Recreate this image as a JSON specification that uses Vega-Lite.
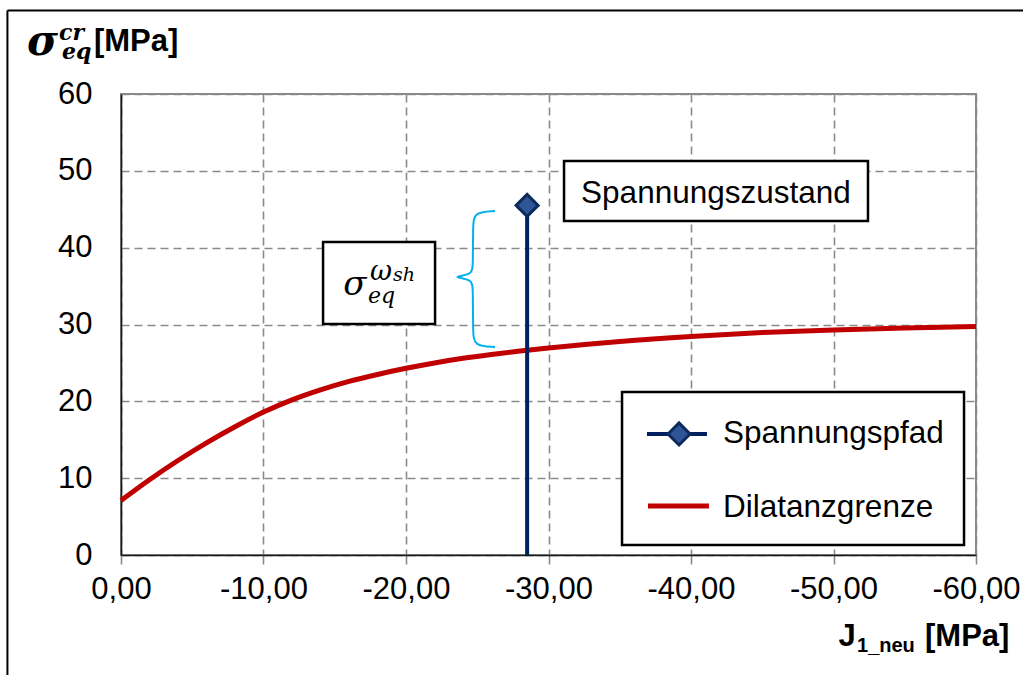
{
  "$schema": "https://vega.github.io/schema/vega-lite/v6.json",
  "width": 855,
  "height": 461,
  "autosize": {"type": "none"},
  "padding": {"left": 121, "top": 94, "right": 47, "bottom": 120},
  "background": "white",
  "data": {"values": [{}]},
  "config": {
    "font": "Liberation Sans",
    "view": {"stroke": "#8a8a8a", "strokeWidth": 2},
    "axis": {
      "labelFont": "Liberation Sans",
      "labelFontSize": 31,
      "labelColor": "black",
      "labelFlush": false,
      "labelOverlap": false,
      "grid": true,
      "gridColor": "#8a8a8a",
      "gridDash": [8, 5],
      "gridWidth": 1.6,
      "domainColor": "#1a1a1a",
      "domainWidth": 1.6,
      "title": null
    }
  },
  "datasets": {
    "dilatanzgrenze": [
      {"J": 0, "sigma": 7.1},
      {"J": -2, "sigma": 9.8},
      {"J": -4, "sigma": 12.3},
      {"J": -6, "sigma": 14.6},
      {"J": -8, "sigma": 16.7},
      {"J": -10, "sigma": 18.6},
      {"J": -12, "sigma": 20.2},
      {"J": -14, "sigma": 21.5},
      {"J": -16, "sigma": 22.6},
      {"J": -18, "sigma": 23.5},
      {"J": -20, "sigma": 24.3},
      {"J": -22, "sigma": 25.0},
      {"J": -24, "sigma": 25.6},
      {"J": -26, "sigma": 26.1},
      {"J": -28, "sigma": 26.55},
      {"J": -30, "sigma": 26.95},
      {"J": -35, "sigma": 27.8},
      {"J": -40, "sigma": 28.45},
      {"J": -45, "sigma": 28.95},
      {"J": -50, "sigma": 29.3},
      {"J": -55, "sigma": 29.55},
      {"J": -60, "sigma": 29.75}
    ],
    "spannungspfad": [
      {"J": -28.5, "sigma": 0},
      {"J": -28.5, "sigma": 45.5}
    ],
    "klammer": [
      {"i": 1, "J": -26.25, "sigma": 44.77},
      {"i": 2, "J": -24.77, "sigma": 44.64},
      {"i": 3, "J": -24.7, "sigma": 42.82},
      {"i": 4, "J": -24.7, "sigma": 37.61},
      {"i": 5, "J": -24.63, "sigma": 36.44},
      {"i": 6, "J": -23.09, "sigma": 36.18},
      {"i": 7, "J": -24.63, "sigma": 35.92},
      {"i": 8, "J": -24.7, "sigma": 34.75},
      {"i": 9, "J": -24.7, "sigma": 29.02},
      {"i": 10, "J": -24.77, "sigma": 27.2},
      {"i": 11, "J": -26.25, "sigma": 27.07}
    ]
  },
  "layer": [
    {
      "data": {"name": "dilatanzgrenze"},
      "mark": {"type": "line", "color": "#c00000", "strokeWidth": 5, "interpolate": "monotone"},
      "encoding": {
        "x": {
          "field": "J",
          "type": "quantitative",
          "scale": {"domain": [0, -60], "nice": false, "zero": false},
          "axis": {
            "values": [0, -10, -20, -30, -40, -50, -60],
            "labelExpr": "replace(replace(format(datum.value, '.2f'), '.', ','), '\u2212', '-')",
            "tickSize": 9,
            "tickColor": "#8a8a8a",
            "tickWidth": 1.6,
            "labelPadding": 10
          }
        },
        "y": {
          "field": "sigma",
          "type": "quantitative",
          "scale": {"domain": [0, 60], "nice": false, "zero": true},
          "axis": {
            "values": [0, 10, 20, 30, 40, 50, 60],
            "ticks": false,
            "tickSize": 0,
            "labelPadding": 29
          }
        }
      }
    },
    {
      "data": {"name": "klammer"},
      "mark": {"type": "line", "color": "#00b0f0", "strokeWidth": 2, "interpolate": "basis"},
      "encoding": {
        "x": {"field": "J", "type": "quantitative"},
        "y": {"field": "sigma", "type": "quantitative"},
        "order": {"field": "i"}
      }
    },
    {
      "data": {"name": "spannungspfad"},
      "mark": {"type": "line", "color": "#002060", "strokeWidth": 4},
      "encoding": {
        "x": {"field": "J", "type": "quantitative"},
        "y": {"field": "sigma", "type": "quantitative"}
      }
    },
    {
      "data": {"name": "spannungspfad"},
      "transform": [{"filter": "datum.sigma > 0"}],
      "mark": {"type": "point", "shape": "diamond", "size": 484, "filled": true, "fill": "#2f5597", "stroke": "#0d2a5c", "strokeWidth": 3, "opacity": 1},
      "encoding": {
        "x": {"field": "J", "type": "quantitative"},
        "y": {"field": "sigma", "type": "quantitative"}
      }
    },
    {
      "mark": {"type": "rule", "color": "black", "strokeWidth": 2, "clip": false},
      "encoding": {
        "x": {"datum": 7.97, "type": "quantitative"},
        "x2": {"datum": -64},
        "y": {"datum": 70.87, "type": "quantitative"}
      }
    },
    {
      "mark": {"type": "rule", "color": "black", "strokeWidth": 2, "clip": false},
      "encoding": {
        "x": {"datum": 7.97, "type": "quantitative"},
        "y": {"datum": 70.87, "type": "quantitative"},
        "y2": {"datum": -16}
      }
    },
    {
      "mark": {"type": "rect", "fill": "white", "stroke": "black", "strokeWidth": 2.5},
      "encoding": {
        "x": {"datum": -31.09, "type": "quantitative"},
        "x2": {"datum": -52.42},
        "y": {"datum": 51.28, "type": "quantitative"},
        "y2": {"datum": 43.47}
      }
    },
    {
      "mark": {"type": "text", "text": "Spannungszustand", "font": "Liberation Sans", "fontSize": 31.5, "align": "center", "baseline": "alphabetic", "color": "black"},
      "encoding": {
        "x": {"datum": -41.75, "type": "quantitative"},
        "y": {"datum": 45.81, "type": "quantitative"}
      }
    },
    {
      "mark": {"type": "rect", "fill": "white", "stroke": "black", "strokeWidth": 2.5},
      "encoding": {
        "x": {"datum": -14.18, "type": "quantitative"},
        "x2": {"datum": -22.04},
        "y": {"datum": 40.74, "type": "quantitative"},
        "y2": {"datum": 30.07}
      }
    },
    {
      "mark": {"type": "text", "text": "σ", "font": "DejaVu Serif", "fontStyle": "italic", "fontSize": 34, "align": "left", "baseline": "alphabetic", "color": "black"},
      "encoding": {
        "x": {"datum": -15.6, "type": "quantitative"},
        "y": {"datum": 33.84, "type": "quantitative"}
      }
    },
    {
      "mark": {"type": "text", "text": "eq", "font": "DejaVu Serif", "fontStyle": "italic", "fontSize": 22, "align": "left", "baseline": "alphabetic", "color": "black"},
      "encoding": {
        "x": {"datum": -17.33, "type": "quantitative"},
        "y": {"datum": 32.8, "type": "quantitative"}
      }
    },
    {
      "mark": {"type": "text", "text": "ω", "font": "DejaVu Serif", "fontStyle": "italic", "fontSize": 27, "align": "left", "baseline": "alphabetic", "color": "black"},
      "encoding": {
        "x": {"datum": -17.47, "type": "quantitative"},
        "y": {"datum": 35.79, "type": "quantitative"}
      }
    },
    {
      "mark": {"type": "text", "text": "sh", "font": "DejaVu Serif", "fontStyle": "italic", "fontSize": 19, "align": "left", "baseline": "alphabetic", "color": "black"},
      "encoding": {
        "x": {"datum": -19.09, "type": "quantitative"},
        "y": {"datum": 35.6, "type": "quantitative"}
      }
    },
    {
      "mark": {"type": "rect", "fill": "white", "stroke": "black", "strokeWidth": 2.5},
      "encoding": {
        "x": {"datum": -35.16, "type": "quantitative"},
        "x2": {"datum": -59.16},
        "y": {"datum": 21.22, "type": "quantitative"},
        "y2": {"datum": 1.3}
      }
    },
    {
      "mark": {"type": "rule", "color": "#002060", "strokeWidth": 4},
      "encoding": {
        "x": {"datum": -36.91, "type": "quantitative"},
        "x2": {"datum": -41.12},
        "y": {"datum": 15.75, "type": "quantitative"}
      }
    },
    {
      "mark": {"type": "point", "shape": "diamond", "size": 484, "filled": true, "fill": "#2f5597", "stroke": "#0d2a5c", "strokeWidth": 3, "opacity": 1},
      "encoding": {
        "x": {"datum": -39.16, "type": "quantitative"},
        "y": {"datum": 15.75, "type": "quantitative"}
      }
    },
    {
      "mark": {"type": "rule", "color": "#c00000", "strokeWidth": 5},
      "encoding": {
        "x": {"datum": -36.98, "type": "quantitative"},
        "x2": {"datum": -41.26},
        "y": {"datum": 6.38, "type": "quantitative"}
      }
    },
    {
      "mark": {"type": "text", "text": "Spannungspfad", "font": "Liberation Sans", "fontSize": 31.5, "align": "left", "baseline": "alphabetic", "color": "black"},
      "encoding": {
        "x": {"datum": -42.25, "type": "quantitative"},
        "y": {"datum": 14.58, "type": "quantitative"}
      }
    },
    {
      "mark": {"type": "text", "text": "Dilatanzgrenze", "font": "Liberation Sans", "fontSize": 31.5, "align": "left", "baseline": "alphabetic", "color": "black"},
      "encoding": {
        "x": {"datum": -42.25, "type": "quantitative"},
        "y": {"datum": 4.95, "type": "quantitative"}
      }
    },
    {
      "mark": {"type": "text", "text": "σ", "font": "DejaVu Serif", "fontStyle": "italic", "fontWeight": "bold", "fontSize": 42, "align": "left", "baseline": "alphabetic", "color": "black", "clip": false},
      "encoding": {
        "x": {"datum": 6.6, "type": "quantitative"},
        "y": {"datum": 65.08, "type": "quantitative"}
      }
    },
    {
      "mark": {"type": "text", "text": "cr", "font": "DejaVu Serif", "fontStyle": "italic", "fontWeight": "bold", "fontSize": 22, "align": "left", "baseline": "alphabetic", "color": "black", "clip": false},
      "encoding": {
        "x": {"datum": 4.35, "type": "quantitative"},
        "y": {"datum": 67.0, "type": "quantitative"}
      }
    },
    {
      "mark": {"type": "text", "text": "eq", "font": "DejaVu Serif", "fontStyle": "italic", "fontWeight": "bold", "fontSize": 22, "align": "left", "baseline": "alphabetic", "color": "black", "clip": false},
      "encoding": {
        "x": {"datum": 4.14, "type": "quantitative"},
        "y": {"datum": 64.5, "type": "quantitative"}
      }
    },
    {
      "mark": {"type": "text", "text": "[MPa]", "font": "Liberation Sans", "fontWeight": "bold", "fontSize": 31, "align": "left", "baseline": "alphabetic", "color": "black", "clip": false},
      "encoding": {
        "x": {"datum": 1.9, "type": "quantitative"},
        "y": {"datum": 65.6, "type": "quantitative"}
      }
    },
    {
      "mark": {"type": "text", "text": "J", "font": "Liberation Sans", "fontWeight": "bold", "fontSize": 31, "align": "left", "baseline": "alphabetic", "color": "black", "clip": false},
      "encoding": {
        "x": {"datum": -50.35, "type": "quantitative"},
        "y": {"datum": -11.84, "type": "quantitative"}
      }
    },
    {
      "mark": {"type": "text", "text": "1_neu", "font": "Liberation Sans", "fontWeight": "bold", "fontSize": 20, "align": "left", "baseline": "alphabetic", "color": "black", "clip": false},
      "encoding": {
        "x": {"datum": -51.65, "type": "quantitative"},
        "y": {"datum": -12.62, "type": "quantitative"}
      }
    },
    {
      "mark": {"type": "text", "text": "[MPa]", "font": "Liberation Sans", "fontWeight": "bold", "fontSize": 31, "align": "left", "baseline": "alphabetic", "color": "black", "clip": false},
      "encoding": {
        "x": {"datum": -56.42, "type": "quantitative"},
        "y": {"datum": -11.84, "type": "quantitative"}
      }
    }
  ]
}
